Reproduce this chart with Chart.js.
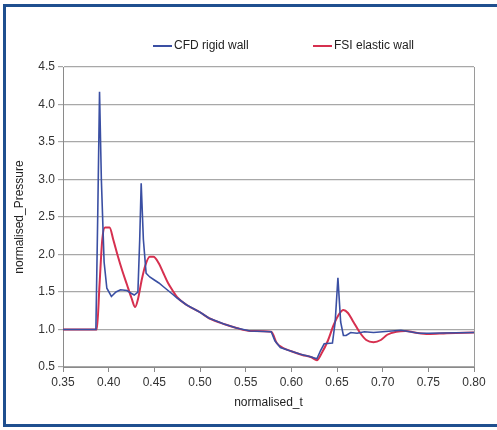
<!DOCTYPE html>
<html>
<head>
<meta charset="utf-8">
<script src="https://cdn.jsdelivr.net/npm/chart.js@4.4.1/dist/chart.umd.min.js"></script>
<style>
  html, body { margin: 0; padding: 0; background: #fff; overflow: hidden; }
  #frame {
    position: absolute; left: 3px; top: 4px; width: 520px; height: 417px;
    border: 3px solid #1f4f8f; pointer-events: none;
  }
  #chart { position: absolute; left: 0; top: 0; }
</style>
</head>
<body>
<canvas id="chart" width="497" height="430"></canvas>
<div id="frame"></div>
<script>
// normalised time and pressure
const tCfd = [0.35, 0.386, 0.388, 0.390, 0.392, 0.395, 0.398, 0.403, 0.408, 0.413, 0.420, 0.425, 0.428, 0.432, 0.434, 0.4356, 0.438, 0.441, 0.445, 0.450, 0.455, 0.460, 0.465, 0.470, 0.475, 0.485, 0.50, 0.51, 0.527, 0.54, 0.555, 0.578, 0.582, 0.588, 0.595, 0.60, 0.61, 0.62, 0.628, 0.632, 0.636, 0.645, 0.648, 0.651, 0.654, 0.657, 0.660, 0.665, 0.672, 0.68, 0.69, 0.70, 0.71, 0.72, 0.73, 0.74, 0.75, 0.80];
const pCfd = [1.0, 1.0, 2.5, 4.17, 3.0, 1.9, 1.55, 1.44, 1.5, 1.53, 1.52, 1.48, 1.46, 1.5, 2.2, 2.95, 2.2, 1.75, 1.70, 1.66, 1.62, 1.57, 1.52, 1.47, 1.42, 1.33, 1.23, 1.15, 1.07, 1.02, 0.98, 0.97, 0.85, 0.76, 0.73, 0.71, 0.67, 0.64, 0.61, 0.72, 0.81, 0.82, 1.1, 1.69, 1.1, 0.92, 0.92, 0.96, 0.95, 0.97, 0.96, 0.97, 0.98, 0.99, 0.97, 0.95, 0.95, 0.96];

const tFsi = [0.35, 0.387, 0.390, 0.393, 0.396, 0.401, 0.405, 0.41, 0.415, 0.42, 0.425, 0.429, 0.432, 0.436, 0.44, 0.445, 0.449, 0.455, 0.46, 0.465, 0.47, 0.475, 0.485, 0.50, 0.51, 0.527, 0.54, 0.555, 0.578, 0.584, 0.59, 0.60, 0.612, 0.622, 0.628, 0.633, 0.64, 0.646, 0.652, 0.657, 0.662, 0.668, 0.675, 0.682, 0.69, 0.698, 0.705, 0.715, 0.725, 0.735, 0.75, 0.77, 0.80];
const pFsi = [1.0, 1.0, 1.6, 2.2, 2.36, 2.36, 2.2, 1.98, 1.78, 1.6, 1.42, 1.3, 1.4, 1.65, 1.85, 1.97, 1.97, 1.88, 1.75, 1.62, 1.52, 1.43, 1.33, 1.23, 1.15, 1.07, 1.02, 0.98, 0.97, 0.82, 0.76, 0.71, 0.66, 0.63, 0.59, 0.68, 0.85, 1.05, 1.2, 1.26, 1.22, 1.1, 0.96, 0.86, 0.83, 0.86, 0.93, 0.97, 0.98, 0.96, 0.94, 0.95, 0.96];

const seriesNames = ['CFD rigid wall', 'FSI elastic wall'];
const xTicks = { min: 0.35, max: 0.80, step: 0.05 };
const yTicks = { min: 0.5, max: 4.5, step: 0.5 };

const FONT = 'Liberation Sans, Arial, sans-serif';
const toPoints = (xs, ys) => xs.map((x, i) => ({ x: x, y: ys[i] }));

// right edge of the plot box (Excel style)
const plotBorder = {
    id: 'plotBorder',
    afterDraw(chart) {
        const a = chart.chartArea, c = chart.ctx;
        c.save();
        c.strokeStyle = '#9a9a9a';
        c.lineWidth = 1;
        c.beginPath();
        c.moveTo(a.right + 0.5, a.top);
        c.lineTo(a.right + 0.5, a.bottom);
        c.stroke();
        c.restore();
    }
};

// legend sitting above the plot, wide gap between entries like the original
const topLegend = {
    id: 'topLegend',
    afterDraw(chart) {
        const c = chart.ctx;
        const starts = [153, 313];
        const y = 46;
        c.save();
        c.font = '12px ' + FONT;
        c.textBaseline = 'middle';
        chart.data.datasets.forEach((ds, i) => {
            const x = starts[i];
            c.strokeStyle = ds.borderColor;
            c.lineWidth = 2;
            c.beginPath();
            c.moveTo(x, y);
            c.lineTo(x + 19, y);
            c.stroke();
            c.fillStyle = '#222';
            c.fillText(ds.label, x + 21, y);
        });
        c.restore();
    }
};

new Chart(document.getElementById('chart'), {
    type: 'scatter',
    data: {
        datasets: [
            {
                label: seriesNames[0],
                data: toPoints(tCfd, pCfd),
                showLine: true,
                borderColor: '#3a4fa3',
                backgroundColor: '#3a4fa3',
                borderWidth: 1.6,
                pointRadius: 0,
                tension: 0
            },
            {
                label: seriesNames[1],
                data: toPoints(tFsi, pFsi),
                showLine: true,
                borderColor: '#d6304f',
                backgroundColor: '#d6304f',
                borderWidth: 2,
                pointRadius: 0,
                cubicInterpolationMode: 'monotone'
            }
        ]
    },
    options: {
        responsive: false,
        animation: false,
        layout: { padding: { left: 12, right: 23, top: 67, bottom: 20 } },
        plugins: {
            legend: { display: false },
            tooltip: { enabled: false }
        },
        scales: {
            x: {
                type: 'linear',
                min: xTicks.min, max: xTicks.max,
                afterFit: s => { s.height = 43; },
                ticks: {
                    stepSize: xTicks.step,
                    color: '#333',
                    padding: 3,
                    font: { family: FONT, size: 12 },
                    callback: v => v.toFixed(2)
                },
                grid: { drawOnChartArea: false, drawTicks: true, tickLength: 5, color: '#8a8a8a' },
                border: { color: '#8a8a8a' },
                title: {
                    display: true, text: 'normalised_t', color: '#222',
                    font: { family: FONT, size: 12 }, padding: { top: 2, bottom: 0 }
                }
            },
            y: {
                min: yTicks.min, max: yTicks.max,
                afterFit: s => { s.width = 51; },
                ticks: {
                    stepSize: yTicks.step,
                    color: '#333',
                    padding: 3,
                    font: { family: FONT, size: 12 },
                    callback: v => v.toFixed(1)
                },
                grid: { color: '#a8a8a8', lineWidth: 1.2, tickLength: 5 },
                border: { color: '#8a8a8a' },
                title: {
                    display: true, text: 'normalised_Pressure', color: '#222',
                    font: { family: FONT, size: 12 }, padding: 0
                }
            }
        }
    },
    plugins: [plotBorder, topLegend]
});
</script>
</body>
</html>
